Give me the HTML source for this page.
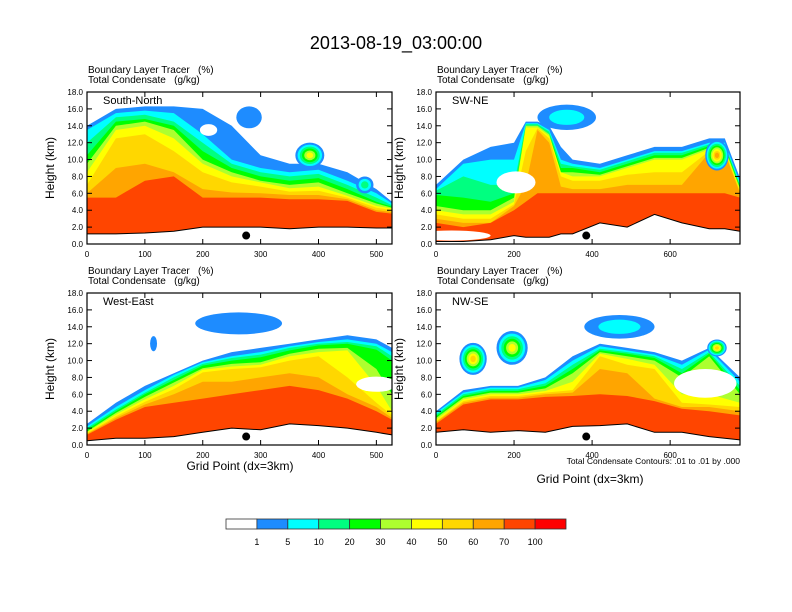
<!DOCTYPE html>
<html><head><meta charset="utf-8">
<style>
html,body{margin:0;padding:0;background:#fff;}
svg{display:block;font-family:"Liberation Sans",sans-serif;}
text{white-space:pre;}
</style></head>
<body>
<svg id="chart" width="792" height="612" viewBox="0 0 792 612">
<text x="396" y="49" font-size="18" text-anchor="middle">2013-08-19_03:00:00</text>
<g id="panels"></g>
<g id="colorbar"></g>
<text x="240" y="470" font-size="12" text-anchor="middle">Grid Point (dx=3km)</text>
<text x="590" y="483" font-size="12" text-anchor="middle">Grid Point (dx=3km)</text>
<text x="740" y="464" font-size="8.5" text-anchor="end">Total Condensate Contours: .01 to .01 by .000</text>
</svg>
<script>
// ---- colour levels ----
const levelColors = ["#1e8cff","#00ffff","#00ff80","#00ff00","#adff2f","#ffff00","#ffd700","#ffa500","#ff4500","#ff0000"];
const levelLabels = ["1","5","10","20","30","40","50","60","70","100"];
// ---- panel A: South-North ----
const xA = [0,50,100,150,200,250,300,350,400,450,500,527];
const terrainA = [1.2,1.2,1.3,1.5,2,2,2,1.8,2,2,1.9,1.9];
const levelsA = [
 [14,16,16.3,16.3,16,14,10.5,9.5,9.5,8.5,6.5,5],
 [13.5,15.5,15.8,15.5,13,10,9,8.5,8.8,7.5,6,4.8],
 [12,15,15.3,14.5,12,9.5,8.5,8,8.3,7,5.5,4.6],
 [10.5,14.5,14.8,14,11,9,8,7.5,7.8,6.5,5,4.4],
 [9.5,14,14.5,13.5,10,8.5,7.5,7,7.3,6,4.8,4.3],
 [8.5,13.5,14,12.5,9.5,8,7.3,6.6,6.8,5.7,4.5,4.2],
 [7,12.5,13,11,8.5,7.3,6.8,6.2,6.3,5.5,4.3,4],
 [6,9,9.5,8.5,6.5,6.1,6,5.8,5.8,5.3,4,3.8],
 [5.5,5.5,7.5,8,5.5,5.5,5.5,5.3,5.3,5.1,3.8,3.6]
];
// ---- panel B: SW-NE ----
const xB = [0,70,140,200,230,260,290,320,350,420,490,560,630,700,740,779];
const terrainB = [0.3,0.3,0.5,1.0,0.8,0.8,0.8,1.2,1.2,2.5,2,3.5,2.5,1.8,1.8,1.5];
const levelsB = [
 [7,10,11.5,12,14.5,14.5,14,11.5,10,9.5,10.5,11.5,11.5,12.5,12.5,7.8],
 [6.5,9.5,10,10,14.3,14.3,13.5,10,9.5,9,10,11,11,12,12,7.3],
 [6.3,8,7,7,14.2,14.2,13.3,9.5,9.2,8.8,9.8,10.8,10.8,11.8,11.8,7],
 [5.8,5.5,5,6,14,14,13,9,9,8.5,9.5,10.5,10.5,11.6,11.6,6.8],
 [4.5,4,4,5.5,14,14,13,8.5,8.5,8.2,9.2,10.2,10.2,11.4,11.4,6.6],
 [4,3.5,3.5,5,13.8,13.8,12.8,8.5,8,8,9,10,10,11.2,11.2,6.4],
 [3.5,3,3,4.7,11,13.7,12.5,8,7.5,7.5,8.2,8.5,8.5,11,11,6.2],
 [3,2.5,2.5,4.5,7,13.5,12,6.8,6.5,6.5,7,7,7,10.8,10.8,6],
 [2.5,2,2.5,4,5,6,6,6,6,6,6,6,6,6,6,5.5]
];
// ---- panel C: West-East ----
const xC = [0,50,100,150,200,250,300,350,400,450,500,527];
const terrainC = [0.5,0.8,0.8,1,1.5,2,1.8,2.5,2.3,2,1.5,1.2];
const levelsC = [
 [2.5,5,7,8.5,10,11,11.5,12,12.5,13,12.5,11.5],
 [2.2,4.5,6.5,8.3,9.8,10.5,11,11.7,12.2,12.5,12,11],
 [2,4.2,6.2,8,9.6,10.3,10.7,11.5,12,12.2,11.7,10.5],
 [1.8,4,6,7.7,9.4,10,10.4,11.2,11.8,12,11.3,10],
 [1.6,3.8,5.7,7.4,9.1,9.6,9.8,10.8,11.4,11.5,9,6],
 [1.5,3.6,5.4,7,8.9,9.3,9.5,10.5,11,11.2,7,4],
 [1.4,3.4,5.1,6.6,8.6,9,9.2,10,10.5,8,5,3.5],
 [1.3,3.2,4.8,6,7.5,7.5,8,8.5,8,6,4.5,3.2],
 [1.2,3,4.5,5,5.5,6,6.5,7,6.5,5.5,4,3]
];
// ---- panel D: NW-SE ----
const xD = [0,70,140,210,280,350,420,490,560,630,700,779];
const terrainD = [1.5,1.8,1.5,1.7,1.5,2.2,2.3,2.5,1.5,1.5,1.0,0.6];
const levelsD = [
 [4,6.5,7,7,8,10.5,12,11.5,11,10,11.5,8],
 [3.8,6.2,6.8,6.8,7.7,10,11.7,11.2,10.7,9.5,11.3,7.5],
 [3.6,6,6.6,6.6,7.3,9.5,11.4,11,10.5,9,11,7],
 [3.4,5.8,6.4,6.4,7,9,11.2,10.8,10.3,8.5,10.8,6.5],
 [3.2,5.6,6.2,6.2,6.7,8.5,11,10.5,10,8,10.5,6],
 [3,5.4,6,6,6.4,7.5,10.8,10.2,9.5,6,6,5],
 [2.8,5.2,5.8,5.8,6.2,6.5,10.5,9.5,9,5,4.8,4.5],
 [2.7,5,5.6,5.6,6,6.2,9,8.5,5.5,4.5,4.5,4],
 [2.5,4.8,5.4,5.4,5.7,5.8,6,5.8,5.2,4.3,4,3.5]
];
// blobs: [x, height, rx(grid), ry(km), number of levels] ; levels 0 = white hole
const blobsA = [[385,10.5,25,1.5,6],[280,15,22,1.3,1],[480,7,15,1,3],[210,13.5,15,0.7,0]];
const blobsB = [[205,7.3,50,1.3,0],[335,15,75,1.5,2],[40,1,100,0.6,0],[720,10.5,30,1.8,8]];
const blobsC = [[262,14.4,75,1.3,1],[115,12,6,0.9,1],[500,7.2,35,0.9,0]];
const blobsD = [[690,7.3,80,1.7,0],[470,14,90,1.4,2],[95,10.2,35,1.9,7],[195,11.5,40,2,6],[720,11.5,25,1,7]];
// black dot positions (grid)
const dotX = [275,385,275,385];

const panels = [
 {name:"south-north",label:"South-North",x0:87,x1:392,y0:92,y1:244,xmax:527,xt:[0,100,200,300,400,500],xs:xA,ter:terrainA,lev:levelsA,blobs:blobsA,dot:dotX[0]},
 {name:"sw-ne",label:"SW-NE",x0:436,x1:740,y0:92,y1:244,xmax:779,xt:[0,200,400,600],xs:xB,ter:terrainB,lev:levelsB,blobs:blobsB,dot:dotX[1]},
 {name:"west-east",label:"West-East",x0:87,x1:392,y0:293,y1:445,xmax:527,xt:[0,100,200,300,400,500],xs:xC,ter:terrainC,lev:levelsC,blobs:blobsC,dot:dotX[2]},
 {name:"nw-se",label:"NW-SE",x0:436,x1:740,y0:293,y1:445,xmax:779,xt:[0,200,400,600],xs:xD,ter:terrainD,lev:levelsD,blobs:blobsD,dot:dotX[3]}
];
const yTicks = [0,2,4,6,8,10,12,14,16,18];
const NS="http://www.w3.org/2000/svg";
function mk(tag,attrs,parent){const e=document.createElementNS(NS,tag);for(const k in attrs)e.setAttribute(k,attrs[k]);parent.appendChild(e);return e;}
const root=document.getElementById("panels");
panels.forEach((p,pi)=>{
  const sx=v=>p.x0+(v/p.xmax)*(p.x1-p.x0);
  const sy=v=>p.y1-(v/18)*(p.y1-p.y0);
  const g=mk("g",{},root);
  
  
  const t1=mk("text",{x:p.x0+1,y:p.y0-19,"font-size":"10"},g);t1.textContent="Boundary Layer Tracer   (%)";
  
  
  const t2=mk("text",{x:p.x0+1,y:p.y0-9,"font-size":"10"},g);t2.textContent="Total Condensate   (g/kg)";
  
  
  const cid="clip"+pi;
  const cp=mk("clipPath",{id:cid},g);mk("rect",{x:p.x0,y:p.y0,width:p.x1-p.x0,height:p.y1-p.y0},cp);
  const field=mk("g",{"clip-path":"url(#"+cid+")"},g);
  
  
  const bottom=p.xs.map((x,i)=>sx(x).toFixed(1)+","+sy(p.ter[i]).toFixed(1)).reverse().join(" ");
  p.lev.forEach((arr,k)=>{
    const top=p.xs.map((x,i)=>sx(x).toFixed(1)+","+sy(arr[i]).toFixed(1)).join(" ");
    const poly=mk("polygon",{points:top+" "+bottom,fill:levelColors[k]},field);
    
    
  });
  p.blobs.forEach(b=>{
    const n=b[4];
    if(n===0){
      const e=mk("ellipse",{cx:sx(b[0]),cy:sy(b[1]),rx:b[2]/p.xmax*(p.x1-p.x0),ry:b[3]/18*(p.y1-p.y0),fill:"#fff"},field);
      
      
    } else {
      for(let k=0;k<n;k++){
        const f=1-k/(n+0.5);
        const e=mk("ellipse",{cx:sx(b[0]),cy:sy(b[1]),rx:f*b[2]/p.xmax*(p.x1-p.x0),ry:f*b[3]/18*(p.y1-p.y0),fill:levelColors[k]},field);
        
        
      }
    }
  });
  const ground=p.xs.map((x,i)=>sx(x).toFixed(1)+","+sy(p.ter[i]).toFixed(1)).join(" ");
  const tm=mk("polygon",{points:ground+" "+sx(p.xmax)+","+p.y1+" "+p.x0+","+p.y1,fill:"#fff"},field);
  
  
  const tl=mk("polyline",{points:ground,fill:"none",stroke:"#000","stroke-width":"1"},field);
  
  
  const dot=mk("circle",{cx:sx(p.dot),cy:sy(1.0),r:4,fill:"#000"},g);
  
  
  const fr=mk("rect",{x:p.x0,y:p.y0,width:p.x1-p.x0,height:p.y1-p.y0,fill:"none",stroke:"#000","stroke-width":"1.2"},g);
  
  
  const lb=mk("text",{x:p.x0+16,y:p.y0+12,"font-size":"11"},g);lb.textContent=p.label;
  
  
  yTicks.forEach(v=>{
    mk("line",{x1:p.x0,x2:p.x0+5,y1:sy(v),y2:sy(v),stroke:"#000"},g);
    mk("line",{x1:p.x1,x2:p.x1-5,y1:sy(v),y2:sy(v),stroke:"#000"},g);
    const t=mk("text",{x:p.x0-4,y:sy(v)+3,"font-size":"8","text-anchor":"end"},g);t.textContent=v.toFixed(1);
    
    
  });
  p.xt.forEach(v=>{
    mk("line",{x1:sx(v),x2:sx(v),y1:p.y1,y2:p.y1-5,stroke:"#000"},g);
    mk("line",{x1:sx(v),x2:sx(v),y1:p.y0,y2:p.y0+5,stroke:"#000"},g);
    const t=mk("text",{x:sx(v),y:p.y1+13,"font-size":"8","text-anchor":"middle"},g);t.textContent=v;
    
    
  });
  const yt=mk("text",{x:0,y:0,"font-size":"12","text-anchor":"middle",transform:"translate("+(p.x0-33)+","+((p.y0+p.y1)/2)+") rotate(-90)"},g);
  yt.textContent="Height (km)";
  
  
});
// colorbar
const cb=document.getElementById("colorbar");
const cbColors=["#ffffff"].concat(levelColors);
const bw=340/11;
cbColors.forEach((c,i)=>{
  const r=mk("rect",{x:226+i*bw,y:519,width:bw,height:10,fill:c,stroke:"#333","stroke-width":"0.8"},cb);
  
  
});
levelLabels.forEach((l,i)=>{
  const t=mk("text",{x:226+(i+1)*bw,y:545,"font-size":"9","text-anchor":"middle"},cb);t.textContent=l;
  
  
});
</script>
</body></html>
